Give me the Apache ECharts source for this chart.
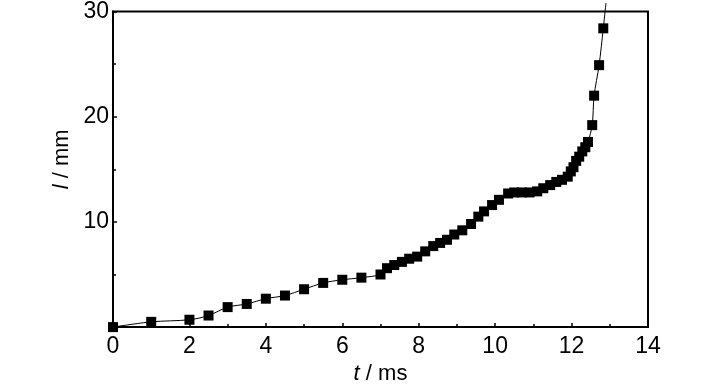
<!DOCTYPE html>
<html><head><meta charset="utf-8">
<script src="https://cdn.jsdelivr.net/npm/echarts@6/dist/echarts.min.js"></script>
<style>html,body{margin:0;padding:0;background:#fff}#c{width:728px;height:390px}</style>
</head><body><div id="c"></div>
<script>
const tValues = [0, 1, 2, 2.5, 3, 3.5, 4, 4.5, 5, 5.5, 6, 6.5, 7, 7.17, 7.36, 7.56, 7.75, 7.96, 8.17, 8.38, 8.56, 8.74, 8.93, 9.14, 9.37, 9.56, 9.71, 9.92, 10.1, 10.34, 10.5, 10.7, 10.9, 11.1, 11.26, 11.44, 11.6, 11.75, 11.9, 11.98, 12.05, 12.12, 12.2, 12.28, 12.36, 12.43, 12.54, 12.59, 12.72, 12.83];
const lValues = [0, 0.5, 0.7, 1.1, 1.9, 2.2, 2.7, 3.0, 3.6, 4.2, 4.5, 4.7, 5.0, 5.6, 5.9, 6.2, 6.5, 6.7, 7.2, 7.7, 8.0, 8.3, 8.8, 9.2, 9.8, 10.5, 11.0, 11.6, 12.1, 12.7, 12.8, 12.8, 12.8, 12.9, 13.2, 13.5, 13.8, 14.0, 14.3, 14.8, 15.2, 15.8, 16.2, 16.7, 17.1, 17.6, 19.2, 22.0, 24.9, 28.4];
const curveExtT = [12.9];
const curveExtL = [30.8];
const xTicks = [0, 2, 4, 6, 8, 10, 12, 14];
const yTicks = [10, 20, 30];

const pts = tValues.map((t, i) => [t, lValues[i]]);
const curve = pts.concat(curveExtT.map((t, i) => [t, curveExtL[i]]));
const font = '"Liberation Sans", Arial, sans-serif';

const chart = echarts.init(document.getElementById('c'), null, {renderer: 'canvas'});
chart.setOption({
  animation: false,
  backgroundColor: '#fff',
  grid: {left: 113, right: 80, top: 8, bottom: 53, show: true, borderColor: '#000', borderWidth: 2},
  xAxis: {
    type: 'value', min: 0, max: 14, interval: 2,
    axisLine: {show: true, onZero: false, lineStyle: {color: '#000', width: 2}},
    axisTick: {show: true, inside: true, length: 4, lineStyle: {color: '#000', width: 1.5}},
    minorTick: {show: true, splitNumber: 2, length: 3, lineStyle: {color: '#000', width: 1.5}},
    splitLine: {show: false},
    axisLabel: {color: '#000', fontFamily: font, fontSize: 23, margin: 8,
      formatter: v => xTicks.includes(v) ? String(v) : ''},
    name: '{i|t} / ms', nameLocation: 'middle', nameGap: 35,
    nameTextStyle: {color: '#000', fontFamily: font, fontSize: 22,
      rich: {i: {fontStyle: 'italic', fontFamily: font, fontSize: 22, color: '#000'}}}
  },
  yAxis: {
    type: 'value', min: 0, max: 30, interval: 10,
    axisLine: {show: true, onZero: false, lineStyle: {color: '#000', width: 2}},
    axisTick: {show: true, inside: true, length: 4, lineStyle: {color: '#000', width: 1.5}},
    minorTick: {show: true, splitNumber: 2, length: 3, lineStyle: {color: '#000', width: 1.5}},
    splitLine: {show: false},
    axisLabel: {color: '#000', fontFamily: font, fontSize: 23, margin: 4,
      formatter: v => yTicks.includes(v) ? String(v) : ''},
    name: '{i|l} / mm', nameLocation: 'middle', nameGap: 34, nameRotate: 90,
    nameTextStyle: {color: '#000', fontFamily: font, fontSize: 22, padding: [0, 0, 0, 20],
      rich: {i: {fontStyle: 'italic', fontFamily: font, fontSize: 22, color: '#000'}}}
  },
  series: [
    {type: 'line', data: curve, smooth: 0.3, showSymbol: false, clip: false,
     lineStyle: {color: '#000', width: 1}, z: 2},
    {type: 'scatter', data: pts, symbol: 'rect', symbolSize: 10, clip: false,
     itemStyle: {color: '#000', opacity: 1}, z: 3}
  ]
});
</script></body></html>
